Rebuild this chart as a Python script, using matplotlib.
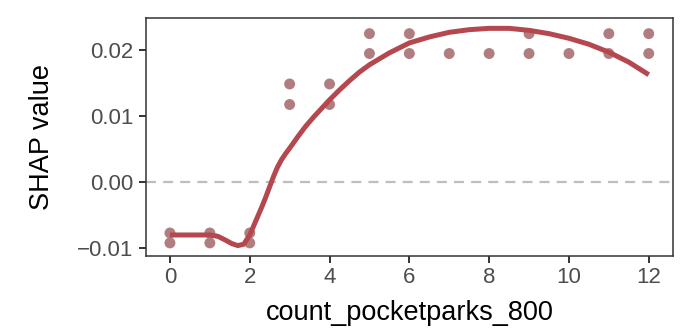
import matplotlib
matplotlib.use("Agg")
import matplotlib.pyplot as plt

plt.rcParams['font.family'] = ['Liberation Sans', 'DejaVu Sans']

# scatter data (SHAP values per feature value)
pt_x = [0, 0, 1, 1, 2, 2, 3, 3, 4, 4, 5, 5, 6, 6, 7, 8, 9, 9, 10, 11, 11, 12, 12]
pt_y = [-0.0077, -0.0092, -0.0077, -0.0092, -0.0077, -0.0092,
        0.0148, 0.0117, 0.0148, 0.0117, 0.0224, 0.0194, 0.0224, 0.0194,
        0.0194, 0.0194, 0.0224, 0.0194, 0.0194, 0.0224, 0.0194, 0.0224, 0.0194]

# smoothed trend line
sm_x = [0, 0.5, 1.0, 1.2, 1.4, 1.55, 1.7, 1.85, 2.0, 2.1, 2.2, 2.3, 2.4, 2.5,
        2.6, 2.7, 2.8, 2.9, 3.0, 3.2, 3.4, 3.6, 3.8, 4.0, 4.25, 4.5, 4.75, 5.0,
        5.5, 6.0, 6.5, 7.0, 7.5, 8.0, 8.5, 9.0, 9.5, 10.0, 10.5, 11.0, 11.5, 12.0]
sm_y = [-0.0080, -0.0080, -0.0080, -0.0082, -0.0088, -0.0093, -0.0096, -0.0094,
        -0.0080, -0.0066, -0.0052, -0.0038, -0.0023, -0.0007, 0.0009, 0.0023,
        0.0034, 0.0043, 0.0051, 0.0068, 0.0084, 0.0098, 0.0111, 0.0124, 0.0139,
        0.0153, 0.0166, 0.0177, 0.0195, 0.0210, 0.0219, 0.0226, 0.0230, 0.0232,
        0.0232, 0.0229, 0.0224, 0.0217, 0.0208, 0.0196, 0.0181, 0.0162]

x_ticks = [0, 2, 4, 6, 8, 10, 12]
y_ticks = [-0.01, 0.00, 0.01, 0.02]
y_ticklabels = ["\u22120.01", "0.00", "0.01", "0.02"]

fig = plt.figure(figsize=(6.81, 3.35), dpi=100)
ax = fig.add_axes([0.2144, 0.2373, 0.9878 - 0.2144, 0.947 - 0.2373])

ax.axhline(0, color='#BEBEBE', lw=1.6, dashes=(4.5, 3.2), zorder=1)
ax.scatter(pt_x, pt_y, s=62, color='#B07E80', edgecolors='none', zorder=2)
ax.plot(sm_x, sm_y, color='#B5484F', lw=3.6, solid_capstyle='butt',
        solid_joinstyle='round', zorder=3)

ax.set_xlim(-0.6, 12.6)
ax.set_ylim(-0.0111, 0.0248)
ax.set_xticks(x_ticks)
ax.set_yticks(y_ticks)
ax.set_yticklabels(y_ticklabels)

for sp in ax.spines.values():
    sp.set_color('#333333')
    sp.set_linewidth(1.1)

ax.tick_params(axis='both', colors='#333333', width=1.4, length=5, labelsize=16,
               labelcolor='#4D4D4D')
ax.tick_params(axis='y', pad=4)
ax.tick_params(axis='x', pad=3)
ax.set_xlabel('count_pocketparks_800', fontsize=19.5, color='black', labelpad=9)
ax.set_ylabel('SHAP value', fontsize=19.5, color='black', labelpad=16)

fig.savefig('out.png', dpi=100)
